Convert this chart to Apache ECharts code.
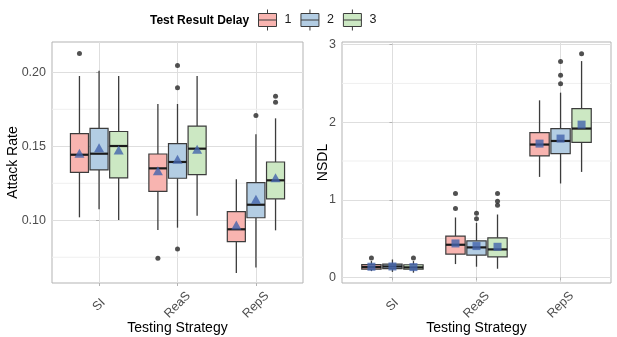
<!DOCTYPE html>
<html>
<head>
<meta charset="utf-8">
<script src="https://cdn.jsdelivr.net/npm/echarts@6/dist/echarts.min.js"></script>
<style>
  html, body { margin: 0; padding: 0; background: #fff; }
  #chart { width: 617px; height: 337px; }
</style>
</head>
<body>
<div id="chart"></div>
<script>
// categories
const strategies = ['SI', 'ReaS', 'RepS']
const delays = ['1', '2', '3']

// Attack Rate boxes: [low whisker, q1, median, q3, high whisker] per strategy
const attackBox1 = [[0.102, 0.1324, 0.1443, 0.1585, 0.1975], [0.0934, 0.1196, 0.1351, 0.1448, 0.1786], [0.0644, 0.0855, 0.0939, 0.1058, 0.1277]]
const attackBox2 = [[0.1074, 0.134, 0.145, 0.1621, 0.2011], [0.095, 0.1284, 0.1394, 0.1518, 0.1786], [0.068, 0.1017, 0.1105, 0.1254, 0.1581]]
const attackBox3 = [[0.1002, 0.1286, 0.1502, 0.160, 0.1975], [0.1031, 0.1308, 0.1484, 0.1637, 0.1975], [0.0932, 0.1144, 0.127, 0.1394, 0.1689]]
const attackMean1 = [0.1453, 0.1335, 0.0968]
const attackMean2 = [0.149, 0.1412, 0.1142]
const attackMean3 = [0.1475, 0.148, 0.1288]
const attackOut1 = [[0.2128], [0.0743], []]
const attackOut2 = [[], [0.2047, 0.1896, 0.0806], [0.1709]]
const attackOut3 = [[], [], [0.1838, 0.1797]]
const attackTicks = [0.1, 0.15, 0.2]
const attackMinor = [0.075, 0.125, 0.175]

// NSDL boxes
const nsdlBox1 = [[0.08, 0.107, 0.133, 0.165, 0.21], [0.171, 0.30, 0.42, 0.532, 0.772], [1.295, 1.565, 1.712, 1.866, 2.282]]
const nsdlBox2 = [[0.07, 0.112, 0.14, 0.17, 0.23], [0.137, 0.287, 0.386, 0.471, 0.703], [1.21, 1.596, 1.758, 1.918, 2.381]]
const nsdlBox3 = [[0.06, 0.104, 0.128, 0.162, 0.21], [0.111, 0.265, 0.36, 0.51, 0.81], [1.359, 1.741, 1.918, 2.175, 2.788]]
const nsdlMean1 = [0.137, 0.437, 1.724]
const nsdlMean2 = [0.14, 0.403, 1.789]
const nsdlMean3 = [0.132, 0.394, 1.969]
const nsdlOut1 = [[0.25], [1.081, 0.888], []]
const nsdlOut2 = [[], [0.827, 0.755], [2.784, 2.604, 2.497]]
const nsdlOut3 = [[0.25], [1.081, 0.982, 0.93], [2.883]]
const nsdlTicks = [0, 1, 2, 3]
const nsdlMinor = [0.5, 1.5, 2.5]

const fills = ['#F8B4B0', '#B3CDE3', '#CCE8C3']
const meanColor = '#4464AD'
const DODGE = 0.25
const BOX_W = 0.23
const font = 'Liberation Sans, Arial, sans-serif'

let myChart = echarts.init(document.getElementById('chart'))

function renderBox(fill) {
    return function (params, api) {
        const x = api.value(0)
        const low = api.coord([x, api.value(1)])
        const q1 = api.coord([x, api.value(2)])
        const med = api.coord([x, api.value(3)])
        const q3 = api.coord([x, api.value(4)])
        const high = api.coord([x, api.value(5)])
        const w = api.size([BOX_W, 0])[0]
        const cx = low[0]
        const line = { stroke: '#3c3c3c', lineWidth: 1.3 }
        return {
            type: 'group',
            children: [
                { type: 'line', shape: { x1: cx, y1: high[1], x2: cx, y2: q3[1] }, style: line },
                { type: 'line', shape: { x1: cx, y1: q1[1], x2: cx, y2: low[1] }, style: line },
                { type: 'rect', shape: { x: cx - w / 2, y: q3[1], width: w, height: q1[1] - q3[1] },
                  style: { fill: fill, stroke: '#3c3c3c', lineWidth: 1.2 } },
                { type: 'line', shape: { x1: cx - w / 2, y1: med[1], x2: cx + w / 2, y2: med[1] },
                  style: { stroke: '#1a1a1a', lineWidth: 2.2 } }
            ]
        }
    }
}

function boxSeries(name, axis, boxes, g) {
    return {
        name: name,
        type: 'custom',
        xAxisIndex: axis,
        yAxisIndex: axis,
        itemStyle: { color: fills[g] },
        renderItem: renderBox(fills[g]),
        encode: { x: 0, y: [1, 2, 3, 4, 5] },
        data: boxes.map((b, i) => [i + (g - 1) * DODGE].concat(b)),
        z: 2
    }
}

function outlierSeries(axis, outs, g) {
    let pts = []
    outs.forEach((list, i) => list.forEach(v => pts.push([i + (g - 1) * DODGE, v])))
    return {
        name: 'out' + axis + g,
        type: 'scatter',
        xAxisIndex: axis,
        yAxisIndex: axis,
        symbol: 'circle',
        symbolSize: 5,
        itemStyle: { color: '#262626' },
        data: pts,
        z: 3
    }
}

function meanSeries(axis, means, g, symbol, size) {
    return {
        name: 'mean' + axis + g,
        type: 'scatter',
        xAxisIndex: axis,
        yAxisIndex: axis,
        symbol: symbol,
        symbolSize: size,
        itemStyle: { color: meanColor },
        data: means.map((v, i) => [i + (g - 1) * DODGE, v]),
        z: 4
    }
}

// faint minor grid lines (ggplot minor breaks), drawn across the panel
function minorSeries(axis, values) {
    return {
        name: 'minor' + axis,
        type: 'custom',
        xAxisIndex: axis,
        yAxisIndex: axis,
        silent: true,
        z: 1,
        encode: { x: 0, y: 1 },
        data: values.map(v => [0, v]),
        renderItem: function (params, api) {
            const p = api.coord([0, api.value(1)])
            const cs = params.coordSys
            return {
                type: 'line',
                shape: { x1: cs.x, y1: p[1], x2: cs.x + cs.width, y2: p[1] },
                style: { stroke: '#efefef', lineWidth: 1 }
            }
        }
    }
}

function xAxisFor(idx) {
    return {
        type: 'value',
        gridIndex: idx,
        min: -0.6,
        max: 2.6,
        splitNumber: 3,
        name: 'Testing Strategy',
        nameLocation: 'middle',
        nameGap: 38,
        nameMoveOverlap: false,
        nameTextStyle: { fontSize: 14, color: '#000', fontFamily: font },
        axisLine: { show: false },
        axisTick: { show: true, length: 3, lineStyle: { color: '#b3b3b3' }, customValues: [0, 1, 2] },
        axisLabel: {
            customValues: [0, 1, 2],
            rotate: 45,
            align: 'center',
            verticalAlign: 'middle',
            margin: 22,
            fontSize: 12.5,
            color: '#4d4d4d',
            fontFamily: font,
            formatter: v => strategies[Math.round(v)] || ''
        },
        splitLine: { show: true, lineStyle: { color: '#dedede', width: 1 } }
    }
}

function yAxisFor(idx, name, min, max, ticks, gap, fmt) {
    return {
        type: 'value',
        gridIndex: idx,
        min: min,
        max: max,
        splitNumber: 3,
        name: name,
        nameLocation: 'middle',
        nameGap: gap,
        nameMoveOverlap: false,
        nameTextStyle: { fontSize: 14, color: '#000', fontFamily: font },
        axisLine: { show: false },
        axisTick: { show: true, length: 3, lineStyle: { color: '#b3b3b3' }, customValues: ticks },
        axisLabel: { customValues: ticks, margin: 6, fontSize: 12.5, color: '#4d4d4d', fontFamily: font, formatter: fmt },
        splitLine: { show: true, lineStyle: { color: '#dedede', width: 1 } }
    }
}

const legendIcon = 'path://M0,4 H18 V17 H0 Z M0,10.5 H18 M9,0 V4 M9,17 V21'

let option = {
    animation: false,
    textStyle: { fontFamily: font },
    title: {
        text: 'Test Result Delay',
        left: 145,
        top: 10,
        textStyle: { fontSize: 12, fontWeight: 'bold', color: '#000', fontFamily: font }
    },
    legend: {
        left: 258,
        top: 9,
        padding: 0,
        itemWidth: 18,
        itemHeight: 21,
        itemGap: 9,
        selectedMode: false,
        icon: legendIcon,
        textStyle: { fontSize: 12.5, color: '#1a1a1a', fontFamily: font, padding: [0, 0, 0, 3] },
        data: delays.map((d, g) => ({ name: d, itemStyle: { color: fills[g], borderColor: '#3c3c3c', borderWidth: 1 } }))
    },
    grid: [
        { left: 52, top: 42, width: 251, height: 241, show: true, borderColor: '#b3b3b3', borderWidth: 1, backgroundColor: 'transparent', outerBoundsMode: 'none' },
        { left: 342, top: 42, width: 269, height: 241, show: true, borderColor: '#b3b3b3', borderWidth: 1, backgroundColor: 'transparent', outerBoundsMode: 'none' }
    ],
    xAxis: [xAxisFor(0), xAxisFor(1)],
    yAxis: [
        yAxisFor(0, 'Attack Rate', 0.0576, 0.2205, attackTicks, 32, v => v.toFixed(2)),
        yAxisFor(1, 'NSDL', -0.073, 3.034, nsdlTicks, 12, v => String(Math.round(v)))
    ],
    series: [
        minorSeries(0, attackMinor),
        minorSeries(1, nsdlMinor),
        boxSeries('1', 0, attackBox1, 0),
        boxSeries('2', 0, attackBox2, 1),
        boxSeries('3', 0, attackBox3, 2),
        boxSeries('1', 1, nsdlBox1, 0),
        boxSeries('2', 1, nsdlBox2, 1),
        boxSeries('3', 1, nsdlBox3, 2),
        outlierSeries(0, attackOut1, 0),
        outlierSeries(0, attackOut2, 1),
        outlierSeries(0, attackOut3, 2),
        outlierSeries(1, nsdlOut1, 0),
        outlierSeries(1, nsdlOut2, 1),
        outlierSeries(1, nsdlOut3, 2),
        meanSeries(0, attackMean1, 0, 'triangle', [10, 9]),
        meanSeries(0, attackMean2, 1, 'triangle', [10, 9]),
        meanSeries(0, attackMean3, 2, 'triangle', [10, 9]),
        meanSeries(1, nsdlMean1, 0, 'rect', 8),
        meanSeries(1, nsdlMean2, 1, 'rect', 8),
        meanSeries(1, nsdlMean3, 2, 'rect', 8)
    ]
}

myChart.setOption(option)
</script>
</body>
</html>
